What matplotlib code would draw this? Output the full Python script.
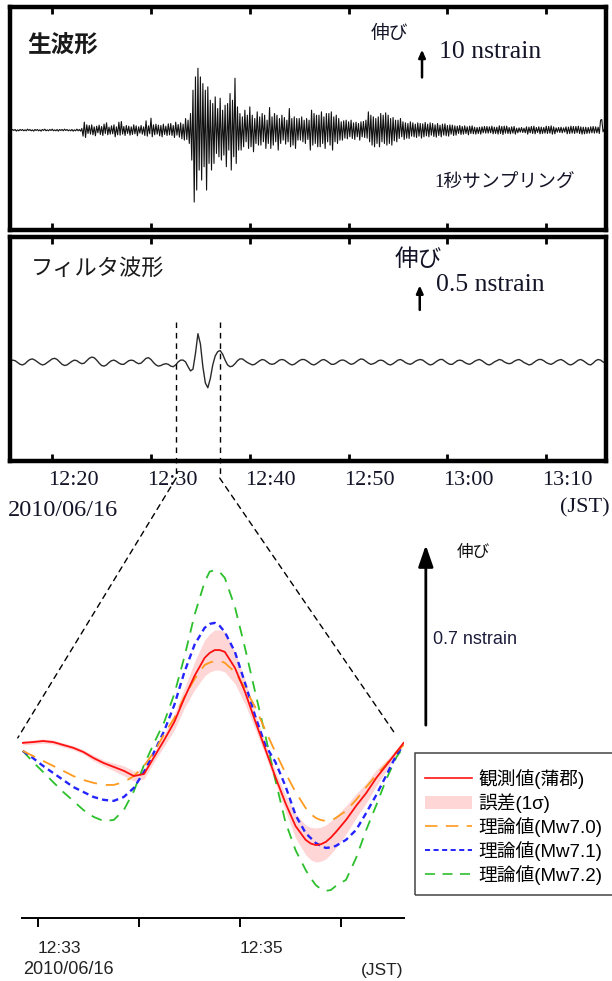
import numpy as np
import matplotlib
matplotlib.use("Agg")
import matplotlib.pyplot as plt
import matplotlib.transforms as mtransforms
from matplotlib.lines import Line2D
from matplotlib.patches import Patch, ConnectionPatch, Rectangle

# ---- data -------------------------------------------------------------
# time axis of the two upper panels, minutes after 12:00 JST
tick_min = [20, 30, 40, 50, 60, 70]
tick_labels = ["12:20", "12:30", "12:40", "12:50", "13:00", "13:10"]
wide_xlim = (15.73, 76.05)

# raw strain (nstrain), one value every 7.5 s starting at 12:15.5
raw_start = 15.5
raw_step = 0.125
raw_strain = [
    0.1, -0.2, 0.2, -0.1,
    0.2, -0.1, 0.2, -0.3, 0.1, -0.2, 0.2, -0.1,
    0.2, -0.2, 0.1, -0.2, 0.3, -0.1, 0.2, -0.2,
    0.1, -0.3, 0.2, -0.1, 0.2, -0.2, 0.1, -0.3,
    0.2, -0.1, 0.3, -0.2, 0.1, -0.2, 0.2, -0.1,
    0.3, -0.2, 0.1, -0.2, 0.2, -0.3, 0.2, -0.1,
    0.2, -0.2, 0.3, -0.1, 0.2, -0.2, 0.1, -0.2,
    0.2, -0.3, 0.1, -0.2, 0.3, -0.2, 0.2, -0.3,
    0.5, -1.8, 2.4, -2.2, 1.6, -1.0, 1.4, -1.2,
    1.6, -1.4, 1.0, -1.7, 1.2, -0.8, 1.5, -1.3,
    1.1, -1.6, 1.8, -1.0, 2.2, -1.4, 0.9, -1.2,
    1.3, -1.1, 1.6, -2.0, 1.0, -1.4, 2.4, -1.5,
    2.6, -1.2, 1.1, -1.6, 1.4, -1.0, 1.2, -1.5,
    1.0, -1.3, 1.6, -1.1, 1.3, -1.7, 1.0, -0.9,
    1.4, -1.2, 1.0, -1.6, 2.8, -1.8, 1.3, -1.1,
    3.6, -2.0, 1.6, -1.4, 1.8, -1.2, 1.5, -1.7,
    1.4, -2.0, 1.8, -1.3, 1.2, -1.6, 1.9, -1.4,
    2.0, -1.6, 1.4, -2.2, 2.4, -1.5, 1.7, -2.1,
    2.2, -2.6, 1.8, -3.0, 3.5, -2.8, 3.0, -4.0,
    5.0, -9.0, 12.0, -21.6, 16.0, -18.0, 18.6, -12.0,
    16.0, -15.0, 14.0, -11.0, 12.0, -18.0, 13.0, -10.0,
    9.0, -12.0, 8.0, -10.0, 10.0, -7.0, 6.5, -8.0,
    9.6, -9.0, 6.0, -7.5, 7.5, -11.0, 8.0, -6.0,
    11.0, -12.0, 9.0, -8.0, 15.6, -10.0, 7.0, -6.0,
    5.0, -6.0, 4.0, -5.0, 6.0, -3.5, 4.5, -5.5,
    7.0, -5.0, 4.5, -6.5, 3.5, -4.0, 5.5, -4.5,
    4.0, -4.5, 5.0, -3.5, 4.5, -5.5, 3.0, -4.0,
    6.8, -5.5, 4.0, -4.5, 5.0, -3.5, 4.5, -6.0,
    3.5, -4.0, 4.5, -3.0, 3.8, -4.2, 3.0, -3.5,
    6.5, -5.0, 3.5, -4.5, 4.0, -5.5, 3.5, -3.0,
    3.5, -3.0, 4.0, -3.5, 3.0, -4.0, 3.5, -2.8,
    3.0, -6.0, 6.0, -4.5, 5.0, -4.0, 4.5, -5.0,
    4.5, -5.0, 5.5, -4.0, 4.0, -5.5, 5.0, -3.5,
    5.0, -4.5, 5.5, -6.0, 4.0, -3.5, 4.5, -4.0,
    3.5, -3.0, 2.5, -3.0, 2.8, -2.4, 3.0, -2.6,
    2.5, -2.0, 3.0, -2.5, 2.2, -2.8, 2.4, -2.0,
    2.0, -3.0, 2.5, -2.0, 2.6, -2.2, 3.0, -2.4,
    5.5, -3.5, 4.5, -4.5, 4.0, -5.0, 3.5, -4.0,
    4.0, -5.0, 5.0, -3.5, 4.5, -4.0, 5.2, -4.5,
    4.5, -4.0, 3.5, -4.5, 3.8, -3.2, 3.0, -3.5,
    3.0, -2.5, 3.5, -2.0, 2.5, -2.8, 2.2, -2.4,
    2.0, -2.5, 2.5, -1.8, 2.2, -2.0, 1.8, -2.2,
    2.2, -1.8, 2.0, -2.4, 1.9, -2.0, 2.3, -1.7,
    1.8, -2.0, 2.2, -1.5, 2.0, -1.9, 1.6, -2.1,
    2.0, -1.6, 1.5, -2.0, 1.8, -1.5, 1.9, -1.7,
    1.4, -1.8, 1.6, -1.2, 1.5, -1.6, 1.3, -1.5,
    1.2, -1.0, 1.4, -1.3, 1.1, -1.2, 1.3, -1.0,
    1.0, -1.4, 1.2, -1.0, 1.3, -1.1, 0.9, -1.2,
    0.8, -1.0, 0.9, -1.2, 1.0, -0.8, 1.1, -0.9,
    1.1, -0.9, 1.0, -0.8, 1.2, -1.1, 0.9, -1.0,
    0.9, -1.2, 1.3, -1.0, 1.1, -1.3, 1.2, -0.9,
    1.2, -1.0, 0.8, -1.1, 1.0, -0.9, 1.1, -1.2,
    0.6, -0.8, 0.7, -0.6, 0.8, -0.7, 0.6, -0.8,
    1.0, -1.2, 0.9, -0.8, 1.1, -1.0, 1.2, -1.1,
    0.8, -0.7, 1.0, -1.1, 0.9, -1.0, 0.8, -0.9,
    1.2, -1.0, 1.1, -0.9, 1.3, -1.2, 1.0, -1.1,
    0.7, -0.6, 0.8, -0.7, 0.9, -0.8, 0.7, -0.6,
    1.0, -1.1, 0.9, -1.0, 1.2, -0.9, 1.1, -1.0,
    1.1, -0.8, 1.2, -1.0, 1.0, -1.2, 0.9, -1.1,
    0.9, -1.0, 0.8, -0.9, 1.0, -0.8, 1.1, -0.9,
    1.0, -0.8, 0.9, -1.0, 3.0, 3.2, -0.5, 0.3,
    0.5, -0.3,
]

# band-pass filtered strain (nstrain), one value every 15 s from 12:15.5
flt_start = 15.5
flt_step = 0.25
flt_strain = [
    0.00, 0.02,
    0.03, 0.02, -0.01, -0.04,  -0.05, -0.03, 0.01, 0.04,  0.05, 0.03, 0.00, -0.03,
    -0.05, -0.04, -0.01, 0.02,  0.05, 0.06, 0.04, 0.00,  -0.04, -0.06, -0.05, -0.02,
    0.01, 0.03, 0.02, -0.01,  -0.03, -0.02, 0.02, 0.06,  0.08, 0.07, 0.03, -0.02,
    -0.06, -0.07, -0.05, -0.01,  0.02, 0.03, 0.01, -0.02,  -0.04, -0.04, -0.01, 0.02,
    0.03, 0.02, -0.01, -0.03,  -0.02, 0.02, 0.06, 0.07,  0.04, -0.01, -0.05, -0.07,
    -0.06, -0.04, -0.03, -0.04,  -0.07, -0.08, -0.05, 0.00,  0.03, 0.03, 0.00, -0.08,
    -0.15, -0.12, 0.14, 0.47,  0.30, -0.08, -0.35, -0.43,  -0.28, -0.05, 0.10, 0.17,
    0.19, 0.13, 0.03, -0.05,  -0.08, -0.07, -0.03, 0.02,  0.05, 0.05, 0.02, -0.01,
    -0.03, -0.05, -0.04, -0.01,  0.02, 0.04, 0.03, 0.00,  -0.03, -0.04, -0.03, 0.00,
    0.03, 0.04, 0.03, 0.00,  -0.03, -0.05, -0.04, -0.01,  0.02, 0.04, 0.04, 0.02,
    -0.01, -0.04, -0.05, -0.03,  0.00, 0.03, 0.04, 0.02,  -0.01, -0.04, -0.04, -0.02,
    0.01, 0.03, 0.03, 0.01,  -0.02, -0.04, -0.03, 0.00,  0.03, 0.05, 0.04, 0.01,
    -0.02, -0.04, -0.03, -0.01,  0.02, 0.03, 0.02, -0.01,  -0.04, -0.05, -0.03, 0.00,
    0.03, 0.04, 0.02, -0.01,  -0.03, -0.04, -0.02, 0.01,  0.03, 0.04, 0.03, 0.00,
    -0.03, -0.05, -0.04, -0.01,  0.02, 0.04, 0.04, 0.01,  -0.02, -0.04, -0.04, -0.01,
    0.02, 0.03, 0.02, -0.01,  -0.03, -0.04, -0.02, 0.01,  0.03, 0.04, 0.02, -0.01,
    -0.04, -0.05, -0.03, 0.00,  0.02, 0.04, 0.03, 0.00,  -0.02, -0.03, -0.02, 0.01,
    0.03, 0.04, 0.02, -0.01,  -0.03, -0.05, -0.04, -0.01,  0.02, 0.04, 0.04, 0.02,
    -0.01, -0.03, -0.04, -0.02,  0.01, 0.03, 0.04, 0.02,  -0.01, -0.04, -0.05, -0.03,
    0.00, 0.03, 0.04, 0.02,  -0.01, -0.04, -0.05, -0.02,  0.02, 0.04, 0.03, 0.00,
    -0.02, 0.00,
]
zoom_marks = [32.55, 36.95]   # dashed markers on the filtered trace

# zoomed comparison (minutes after 12:00, nstrain)
zoom_t = [32.85, 32.95, 33.05, 33.15, 33.25, 33.35, 33.45, 33.55, 33.65, 33.75,
          33.85, 33.95, 34.05, 34.15, 34.25, 34.35, 34.45, 34.55, 34.65, 34.70,
          34.75, 34.80, 34.85, 34.95, 35.05, 35.15, 35.25, 35.35, 35.45, 35.55,
          35.65, 35.70, 35.75, 35.80, 35.85, 35.90, 35.95, 36.05, 36.15, 36.25,
          36.35, 36.45, 36.55, 36.62]
obs = [0.008, 0.011, 0.015, 0.011, 0.000, -0.011, -0.027, -0.050, -0.069, -0.084,
       -0.099, -0.119, -0.111, -0.046, 0.019, 0.088, 0.180, 0.264, 0.333, 0.352,
       0.363, 0.363, 0.356, 0.295, 0.203, 0.092, -0.015, -0.122, -0.222, -0.310,
       -0.363, -0.377, -0.383, -0.380, -0.371, -0.354, -0.333, -0.287, -0.233, -0.184,
       -0.126, -0.077, -0.027, 0.008]
obs_sigma = [0.008, 0.008, 0.008, 0.008, 0.008, 0.008, 0.008, 0.011, 0.011, 0.015,
             0.019, 0.019, 0.019, 0.019, 0.023, 0.031, 0.038, 0.054, 0.069, 0.073,
             0.077, 0.077, 0.077, 0.061, 0.046, 0.031, 0.023, 0.023, 0.031, 0.046,
             0.057, 0.062, 0.065, 0.065, 0.065, 0.063, 0.061, 0.054, 0.046, 0.038,
             0.031, 0.019, 0.011, 0.008]
mw70 = [-0.023, -0.042, -0.061, -0.080, -0.099, -0.119, -0.134, -0.145, -0.153, -0.153,
        -0.142, -0.119, -0.080, -0.027, 0.042, 0.103, 0.184, 0.252, 0.306, 0.315,
        0.321, 0.322, 0.314, 0.279, 0.218, 0.145, 0.057, -0.027, -0.107, -0.180,
        -0.241, -0.264, -0.279, -0.287, -0.291, -0.290, -0.279, -0.252, -0.210, -0.161,
        -0.115, -0.073, -0.027, 0.000]
mw71 = [-0.023, -0.050, -0.080, -0.107, -0.134, -0.161, -0.180, -0.199, -0.210, -0.214,
        -0.199, -0.164, -0.103, -0.027, 0.054, 0.153, 0.279, 0.383, 0.448, 0.463,
        0.467, 0.455, 0.432, 0.356, 0.237, 0.111, 0.000, -0.065, -0.157, -0.268,
        -0.337, -0.356, -0.375, -0.386, -0.394, -0.392, -0.386, -0.363, -0.325, -0.260,
        -0.191, -0.115, -0.038, 0.000]
mw72 = [-0.023, -0.065, -0.103, -0.142, -0.180, -0.214, -0.249, -0.275, -0.291, -0.287,
        -0.249, -0.176, -0.077, 0.008, 0.088, 0.195, 0.337, 0.497, 0.623, 0.663,
        0.669, 0.661, 0.639, 0.528, 0.371, 0.203, 0.038, -0.134, -0.295, -0.402,
        -0.478, -0.509, -0.536, -0.551, -0.558, -0.555, -0.539, -0.516, -0.432, -0.325,
        -0.230, -0.130, -0.046, -0.008]
zoom_ticks = [33, 34, 35, 36]
zoom_tick_labels = ["12:33", "", "12:35", ""]
legend_labels = ["観測値(蒲郡)", "誤差(1σ)", "理論値(Mw7.0)", "理論値(Mw7.1)", "理論値(Mw7.2)"]

SERIF = ["Liberation Serif", "Noto Sans CJK JP"]
SANS = ["Liberation Sans", "Noto Sans CJK JP"]
CJK = ["Noto Sans CJK JP", "DejaVu Sans"]
INK = "#141428"

W, H = 612, 981


def fpos(x, y):
    # pixel position -> figure fraction
    return x / W, 1 - y / H


def main():
    fig = plt.figure(figsize=(W / 100, H / 100), dpi=100)

    # ---- raw waveform ----
    ax_raw = fig.add_axes([10 / W, 1 - 230 / H, 596 / W, 223 / H])
    raw_t = raw_start + raw_step * np.arange(len(raw_strain))
    ax_raw.plot(raw_t, raw_strain, color="#111111", lw=0.8)
    ax_raw.set_xlim(wide_xlim)
    ax_raw.set_ylim(-30, 37)
    ax_raw.set_xticks(tick_min)
    ax_raw.set_yticks([])
    ax_raw.tick_params(axis="x", direction="in", top=True, bottom=True,
                       length=5, width=2, labelbottom=False)
    for s in ax_raw.spines.values():
        s.set_linewidth(3.2)
    # 10 nstrain scale bar
    ax_raw.annotate("", xy=(57.43, 25), xytext=(57.43, 15),
                    arrowprops=dict(arrowstyle="-|>,head_length=0.45,head_width=0.2",
                                    lw=1.8, color="k"))

    fig.text(*fpos(27, 45), "生波形", family=CJK, fontsize=17, fontweight="bold",
             va="center", color="#1a1a1a")
    fig.text(*fpos(371, 34), "伸び", family=CJK, fontsize=13.5, va="center", color=INK)
    fig.text(*fpos(439, 52), "10 nstrain", family=SERIF, fontsize=18.5, va="center",
             color=INK)
    fig.text(*fpos(434, 183), "1秒サンプリング", family=SERIF, fontsize=13.5,
             va="center", color=INK)

    # ---- filtered waveform ----
    ax_flt = fig.add_axes([10 / W, 1 - 461 / H, 596 / W, 224 / H])
    flt_t = flt_start + flt_step * np.arange(len(flt_strain))
    ax_flt.plot(flt_t, flt_strain, color="#2a2a2a", lw=1.0)
    ax_flt.set_xlim(wide_xlim)
    ax_flt.set_ylim(-1.65, 2.08)
    ax_flt.set_yticks([])
    ax_flt.set_xticks(tick_min)
    ax_flt.set_xticklabels(tick_labels, family=SERIF, fontsize=16, color=INK)
    ax_flt.tick_params(axis="x", direction="in", top=True, bottom=True,
                       length=5, width=2, pad=7)
    shift = mtransforms.ScaledTranslation(0.21, 0, fig.dpi_scale_trans)
    for lab in ax_flt.get_xticklabels():
        lab.set_transform(lab.get_transform() + shift)
    for s in ax_flt.spines.values():
        s.set_linewidth(3.2)
    ax_flt.annotate("", xy=(57.2, 1.32), xytext=(57.2, 0.82),
                    arrowprops=dict(arrowstyle="-|>,head_length=0.45,head_width=0.2",
                                    lw=1.8, color="k"))

    fig.text(*fpos(31, 268), "フィルタ波形", family=CJK, fontsize=16, va="center",
             color="#1a1a1a")
    fig.text(*fpos(395, 260), "伸び", family=CJK, fontsize=17, va="center", color=INK)
    fig.text(*fpos(436, 285), "0.5 nstrain", family=SERIF, fontsize=18.5, va="center",
             color=INK)
    fig.text(*fpos(8, 510), "2010/06/16", family=SERIF, fontsize=17.5, va="center",
             color=INK)
    fig.text(*fpos(610, 508), "(JST)", family=SERIF, fontsize=16, va="center",
             ha="right", color=INK)

    # ---- zoomed comparison ----
    ax_zoom = fig.add_axes([22 / W, 1 - 918 / H, 382 / W, 378 / H])
    zt = np.array(zoom_t)
    o = np.array(obs)
    sg = np.array(obs_sigma)
    ax_zoom.fill_between(zt, o - sg, o + sg, color="#ffd6d6", lw=0)
    ax_zoom.plot(zt, mw72, color="#2cc02c", lw=1.3, ls=(0, (6, 4.5)))
    ax_zoom.plot(zt, mw71, color="#2424ff", lw=1.7, ls=(0, (2.6, 1.8)))
    ax_zoom.plot(zt, mw70, color="#ff9a1e", lw=1.3, ls=(0, (7.5, 5)))
    ax_zoom.plot(zt, obs, color="#ff1010", lw=1.3)
    ax_zoom.set_xlim(32.842, 36.624)
    ax_zoom.set_ylim(-0.662, 0.784)
    for side in ["top", "left", "right"]:
        ax_zoom.spines[side].set_visible(False)
    ax_zoom.spines["bottom"].set_linewidth(1.4)
    ax_zoom.set_yticks([])
    ax_zoom.set_xticks(zoom_ticks)
    ax_zoom.set_xticklabels(zoom_tick_labels, family=SANS, fontsize=12.5, ha="left",
                            color="#222222")
    ax_zoom.tick_params(axis="x", direction="out", length=6.5, width=1.4, pad=10)

    # 0.7 nstrain scale arrow
    ax_zoom.annotate("", xy=(36.84, 0.775), xytext=(36.84, 0.065),
                     annotation_clip=False,
                     arrowprops=dict(arrowstyle="-|>,head_length=1.3,head_width=0.45",
                                     lw=2.0, color="k"))
    fig.text(*fpos(457, 552), "伸び", family=CJK, fontsize=12, va="center", color="#111111")
    fig.text(*fpos(433, 639), "0.7 nstrain", family=SANS, fontsize=13, va="center",
             color="#1c1c3c")
    fig.text(*fpos(23, 970), "2010/06/16", family=SANS, fontsize=13, va="center",
             color="#222222")
    fig.text(*fpos(403, 970), "(JST)", family=SANS, fontsize=12.5, va="center",
             ha="right", color="#222222")

    # legend with its own frame running off the right edge
    fig.add_artist(Rectangle(fpos(415, 895), 220 / W, 142 / H, transform=fig.transFigure,
                             fill=False, edgecolor="#444444", lw=1.1))
    handles = [
        Line2D([], [], color="#ff1010", lw=1.2),
        Patch(facecolor="#ffd6d6", edgecolor="none"),
        Line2D([], [], color="#ff9a1e", lw=1.2, ls=(0, (7.5, 5))),
        Line2D([], [], color="#2424ff", lw=1.4, ls=(0, (2.6, 1.8))),
        Line2D([], [], color="#2cc02c", lw=1.2, ls=(0, (6, 4.5))),
    ]
    ax_zoom.legend(handles, legend_labels, loc="upper left",
                   bbox_to_anchor=fpos(425, 769), bbox_transform=fig.transFigure,
                   prop={"family": SANS, "size": 13.5}, frameon=False,
                   handlelength=2.5, handletextpad=0.35, labelspacing=0.22,
                   borderpad=0, borderaxespad=0)

    # dashed zoom guides
    blend = mtransforms.blended_transform_factory(ax_flt.transData, ax_flt.transAxes)
    corners = [(32.80, 0.027), (36.53, 0.046)]
    for tm, corner in zip(zoom_marks, corners):
        ax_flt.plot([tm, tm], [0.62, -0.076], transform=blend, color="k", lw=1.0,
                    ls=(0, (4, 3.5)), clip_on=False)
        con = ConnectionPatch(xyA=(tm, -0.076), coordsA=blend,
                              xyB=corner, coordsB=ax_zoom.transData,
                              color="k", lw=1.0, ls=(0, (4, 3.5)))
        fig.add_artist(con)

    fig.savefig("out.png", dpi=100)


if __name__ == "__main__":
    main()
